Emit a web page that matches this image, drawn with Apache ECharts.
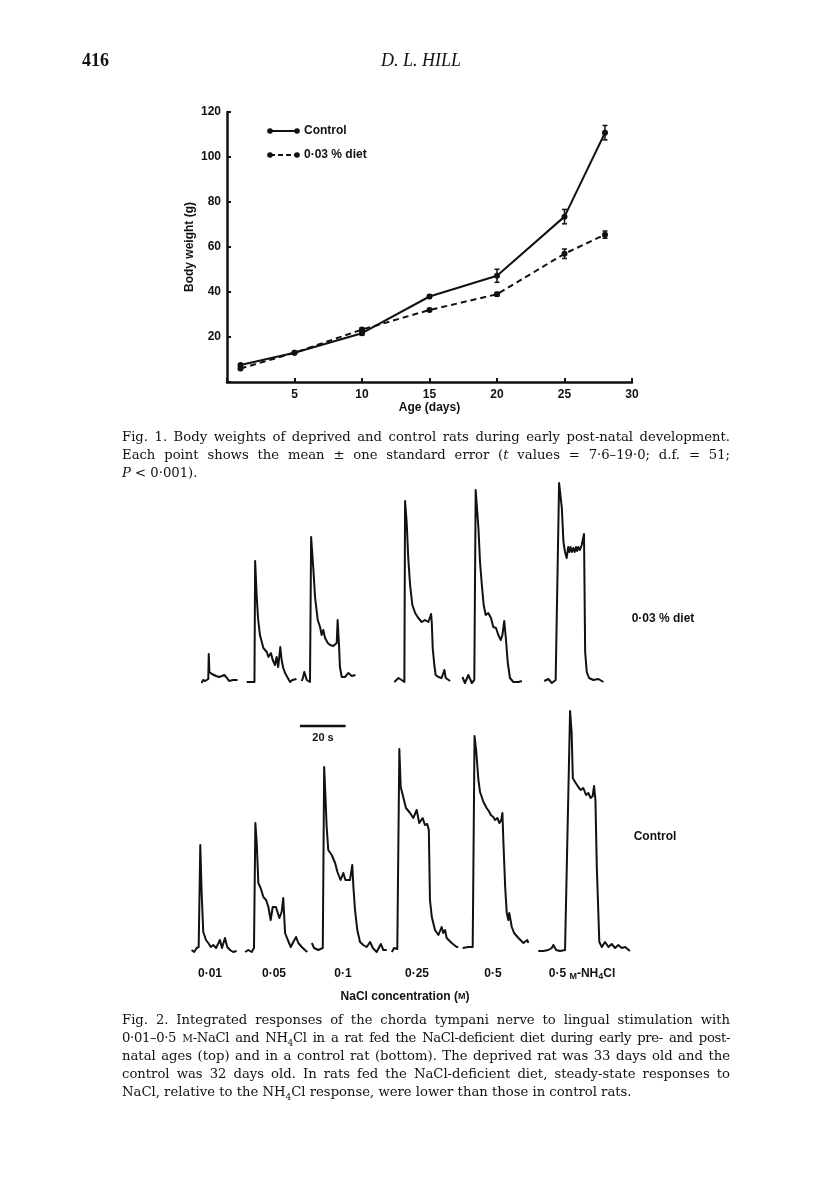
<!DOCTYPE html>
<html>
<head>
<meta charset="utf-8">
<script src="https://cdn.jsdelivr.net/npm/echarts@6/dist/echarts.min.js"></script>
<style>
  html, body { margin: 0; padding: 0; background: #fff; }
  #page { position: relative; width: 816px; height: 1198px; overflow: hidden; }
  #chart { position: absolute; left: 0; top: 0; width: 816px; height: 1198px; }
  .head { position: absolute; top: 50px; font-family: 'Liberation Serif', serif; font-size: 18px; color: #111; }
  .cap { position: absolute; left: 122px; width: 608px; font-family: 'DejaVu Serif', serif; font-size: 13.2px; line-height: 18px; color: #111; }
  .cap div { text-align: justify; text-align-last: justify; height: 18px; }
  .cap div.last { text-align-last: left; }
  .cap div.tight { letter-spacing: -0.35px; word-spacing: -1px; }
  .sc { font-size: 10.5px; }
</style>
</head>
<body>
<div id="page">
  <div id="chart"></div>
  <div class="head" style="left:82px;font-weight:bold;">416</div>
  <div class="head" style="left:381px;font-style:italic;">D. L. HILL</div>
  <div class="cap" style="top:428px;">
    <div>Fig. 1. Body weights of deprived and control rats during early post-natal development.</div>
    <div>Each point shows the mean ± one standard error (<i>t</i> values = 7·6–19·0; d.f. = 51;</div>
    <div class="last"><i>P</i> &lt; 0·001).</div>
  </div>
  <div class="cap" style="top:1011px;">
    <div>Fig. 2. Integrated responses of the chorda tympani nerve to lingual stimulation with</div>
    <div class="tight">0·01–0·5 <span class="sc">M</span>-NaCl and NH<sub style="font-size:9px">4</sub>Cl in a rat fed the NaCl-deficient diet during early pre- and post-</div>
    <div>natal ages (top) and in a control rat (bottom). The deprived rat was 33 days old and the</div>
    <div>control was 32 days old. In rats fed the NaCl-deficient diet, steady-state responses to</div>
    <div class="last">NaCl, relative to the NH<sub style="font-size:9px">4</sub>Cl response, were lower than those in control rats.</div>
  </div>
</div>
<script>
// Fig. 1 : body weight (g) vs age (days)
const ageDays = [1, 5, 10, 15, 20, 25, 28];
const controlWeight = [7.6, 13, 21.7, 38, 47.2, 73.5, 110.8];
const controlSE = [0.5, 0.5, 0.8, 0.8, 2.9, 3.2, 3.2];
const dietWeight = [6, 13, 23.3, 32, 39, 57, 65.5];
const dietSE = [0.5, 0.5, 0.8, 0.6, 0.8, 2.1, 1.6];
const ageTicks = [5, 10, 15, 20, 25, 30];
const weightTicks = [20, 40, 60, 80, 100, 120];

// Fig. 2 : integrated chorda tympani response, [time (s), response (arbitrary units)]
const dietNaCl001 = [[5.1,-2],[5.7,1],[6.6,0],[7.4,2],[8.0,2],[8.2,27],[8.5,9],[9.6,7],[11.4,5],[12.7,4],[14.0,5],[15.0,6],[16.2,3],[17.1,0],[18.8,1],[20.8,1]];
const dietNaCl005 = [[24.8,-1],[25.4,1],[26.3,-1],[27.1,-3],[28.2,-1],[28.5,120],[29.2,84],[29.8,62],[30.6,46],[32.1,33],[33.6,29],[34.3,24],[35.4,28],[36.2,21],[37.2,16],[37.9,24],[38.6,14],[39.5,34],[40.1,21],[40.8,13],[41.6,8],[42.8,3],[43.8,-1],[44.8,1],[46.6,2]];
const dietNaCl01 = [[48.9,0],[49.4,3],[50.0,9],[51.1,1],[52.5,-1],[52.9,-1],[53.0,144],[54.0,111],[54.7,84],[55.9,61],[56.9,54],[57.6,46],[58.3,51],[59.1,43],[60.3,38],[61.3,36],[62.7,35],[64.2,38],[64.6,61],[65.2,36],[65.6,14],[66.4,4],[67.8,4],[69.3,8],[70.8,5],[72.4,6]];
const dietNaCl025 = [[89.4,-1],[91.2,3],[92.6,1],[93.8,-1],[94.1,180],[94.8,159],[95.5,123],[96.3,96],[97.3,76],[98.5,68],[99.9,63],[101.4,59],[102.8,61],[104.3,59],[105.5,67],[105.8,58],[106.2,33],[106.9,16],[107.5,6],[108.7,4],[110.1,3],[111.3,11],[111.9,3],[113.8,0]];
const dietNaCl05 = [[119.2,4],[120.3,-2],[121.8,6],[123.3,-2],[124.4,1],[125.0,191],[126.2,153],[126.9,119],[127.7,96],[128.5,76],[129.4,66],[130.5,68],[131.7,63],[132.7,54],[133.9,53],[134.9,46],[136.0,41],[136.7,46],[137.5,60],[138.2,43],[139.0,19],[140.0,3],[141.5,-1],[143.7,-1],[145.2,0]];
const dietNH4Cl05 = [[155.0,0],[156.8,2],[158.3,-2],[160.0,1],[160.5,0],[161.5,198],[162.7,173],[163.4,139],[164.1,129],[164.8,123],[165.5,134],[166.0,129],[166.5,134],[167.1,129],[167.7,133],[168.3,129],[168.9,134],[169.4,130],[169.9,134],[170.6,131],[171.4,136],[172.4,147],[172.9,29],[173.6,9],[174.6,3],[176.5,1],[178.7,2],[180.9,-1]];

const ctrlNaCl001 = [[0.7,-2],[1.8,-4],[2.9,0],[3.8,1],[4.3,1],[4.5,103],[5.1,55],[5.8,16],[7.0,8],[8.0,5],[9.1,1],[10.2,3],[11.4,0],[13.1,8],[14.0,0],[15.3,10],[16.3,1],[17.5,-2],[18.9,-4],[20.4,-3]];
const ctrlNaCl005 = [[24.1,-4],[25.5,-2],[27.0,-4],[28.0,0],[28.4,0],[28.6,125],[29.2,105],[29.9,65],[30.9,60],[32.1,51],[33.3,48],[34.3,41],[35.3,28],[36.2,41],[37.6,41],[39.1,30],[40.1,36],[40.8,50],[41.6,15],[42.8,8],[44.1,1],[45.2,6],[46.4,11],[47.4,5],[48.9,1],[50.3,-2],[51.3,-4]];
const ctrlNaCl01 = [[53.3,5],[54.3,0],[56.1,-2],[58.1,0],[58.6,0],[58.7,181],[59.2,155],[59.8,121],[60.5,98],[62.0,93],[63.5,85],[64.5,76],[65.9,68],[67.1,75],[68.0,68],[68.8,66],[70.0,68],[71.0,83],[71.5,61],[72.2,38],[73.2,18],[74.4,6],[75.8,3],[77.3,1],[78.8,6],[80.0,0],[81.7,-4],[83.5,4],[84.6,-2],[86.1,-2]];
const ctrlNaCl025 = [[88.3,-4],[89.3,0],[90.7,-1],[91.4,-1],[91.6,199],[92.2,161],[93.3,151],[94.5,140],[96.3,135],[97.7,130],[99.2,138],[100.3,125],[101.8,130],[102.8,123],[103.8,124],[104.5,118],[105.0,48],[105.8,31],[107.2,18],[108.7,13],[110.1,21],[110.8,15],[111.6,18],[112.3,10],[114.5,5],[116.7,1],[117.4,1]];
const ctrlNaCl05 = [[119.3,0],[121.8,1],[123.7,1],[124.2,3],[124.5,212],[125.2,198],[126.2,168],[126.9,156],[128.4,146],[129.8,140],[131.0,136],[131.6,133],[132.7,131],[133.5,128],[134.5,130],[135.4,125],[136.2,128],[136.7,135],[137.1,108],[137.9,61],[138.6,35],[139.3,28],[139.7,35],[140.8,21],[141.8,15],[143.7,10],[145.9,5],[147.6,8],[148.0,5]];
const ctrlNH4Cl05 = [[152.4,-3],[154.6,-3],[156.8,-2],[158.3,0],[159.0,3],[160.2,-2],[161.9,-3],[164.1,-2],[164.4,-2],[166.3,237],[167.0,215],[167.5,170],[168.5,166],[169.9,161],[171.0,158],[172.1,160],[173.3,153],[174.3,155],[175.3,150],[176.2,152],[176.8,162],[177.4,148],[178.0,81],[179.1,6],[180.2,1],[181.6,6],[183.1,1],[184.5,4],[186.0,0],[187.4,3],[188.9,0],[190.4,1],[192.5,-3]];

const dietRow = [dietNaCl001, dietNaCl005, dietNaCl01, dietNaCl025, dietNaCl05, dietNH4Cl05];
const ctrlRow = [ctrlNaCl001, ctrlNaCl005, ctrlNaCl01, ctrlNaCl025, ctrlNaCl05, ctrlNH4Cl05];
const concLabels = ['0·01', '0·05', '0·1', '0·25', '0·5', '0·5 {sc|M}-NH{sub|4}Cl'];
const scaleBar = { start: 48.1, seconds: 20, level: 222 };

const sans = 'Liberation Sans';
const ink = '#111';

const chart = echarts.init(document.getElementById('chart'));

const fig1Axis = {
  axisLine: { lineStyle: { color: ink, width: 2.5 } },
  axisTick: { inside: true, length: 4, lineStyle: { color: ink, width: 2 } },
  splitLine: { show: false },
  axisLabel: { color: ink, fontFamily: sans, fontWeight: 'bold', fontSize: 12,
    formatter: v => (v === 0 ? '' : v) },
  nameLocation: 'middle',
  nameTextStyle: { color: ink, fontFamily: sans, fontWeight: 'bold', fontSize: 12 }
};

const errorSeries = (means, se) => ({
  type: 'custom',
  xAxisIndex: 0, yAxisIndex: 0,
  data: ageDays.map((d, i) => [d, means[i] - se[i], means[i] + se[i]]),
  renderItem: (params, api) => {
    const lo = api.coord([api.value(0), api.value(1)]);
    const hi = api.coord([api.value(0), api.value(2)]);
    const st = { stroke: ink, lineWidth: 1.5 };
    return { type: 'group', children: [
      { type: 'line', shape: { x1: lo[0], y1: lo[1], x2: hi[0], y2: hi[1] }, style: st },
      { type: 'line', shape: { x1: lo[0] - 2.5, y1: lo[1], x2: lo[0] + 2.5, y2: lo[1] }, style: st },
      { type: 'line', shape: { x1: hi[0] - 2.5, y1: hi[1], x2: hi[0] + 2.5, y2: hi[1] }, style: st }
    ] };
  },
  z: 3
});

const traceSeries = (trace, axis) => ({
  type: 'line',
  xAxisIndex: axis, yAxisIndex: axis,
  data: trace,
  showSymbol: false,
  lineStyle: { color: ink, width: 2, join: 'round' },
  z: 2
});

const labelText = (text, x, y, size) => ({
  type: 'text', x: x, y: y,
  style: { text: text, fill: ink, font: 'bold ' + (size || 12) + 'px ' + sans, align: 'center', verticalAlign: 'middle' }
});

const legendKey = (y, dashed) => ({
  type: 'group',
  children: [
    { type: 'line', shape: { x1: 270, y1: y, x2: 297, y2: y },
      style: { stroke: ink, lineWidth: 2, lineDash: dashed ? [5, 3] : null } },
    { type: 'circle', shape: { cx: 270, cy: y, r: 2.8 }, style: { fill: ink } },
    { type: 'circle', shape: { cx: 297, cy: y, r: 2.8 }, style: { fill: ink } }
  ]
});

const concX = [210, 274, 343, 417, 493];

chart.setOption({
  animation: false,
  backgroundColor: '#fff',
  grid: [
    { left: 227, top: 112, width: 405, height: 270 },
    { left: 190, top: 461, width: 450, height: 240 },
    { left: 190, top: 708, width: 450, height: 260 }
  ],
  xAxis: [
    Object.assign({}, fig1Axis, { gridIndex: 0, type: 'value', min: 0, max: 30, interval: 5,
      name: 'Age (days)', nameGap: 20,
      axisLabel: Object.assign({}, fig1Axis.axisLabel, { margin: 7,
        formatter: v => (ageTicks.includes(v) ? v : '') }) }),
    { gridIndex: 1, type: 'value', min: 0, max: 196.9, show: false },
    { gridIndex: 2, type: 'value', min: 0, max: 196.9, show: false }
  ],
  yAxis: [
    Object.assign({}, fig1Axis, { gridIndex: 0, type: 'value', min: 0, max: 120, interval: 20,
      name: 'Body weight (g)', nameGap: 31,
      axisLabel: Object.assign({}, fig1Axis.axisLabel, { margin: 6,
        formatter: v => (weightTicks.includes(v) ? v : '') }) }),
    { gridIndex: 1, type: 'value', min: -20, max: 220, show: false },
    { gridIndex: 2, type: 'value', min: -20, max: 240, show: false }
  ],
  series: [
    { name: 'Control', type: 'line', xAxisIndex: 0, yAxisIndex: 0,
      data: ageDays.map((d, i) => [d, controlWeight[i]]),
      symbol: 'circle', symbolSize: 6, itemStyle: { color: ink },
      lineStyle: { color: ink, width: 2 }, z: 4 },
    { name: '0·03 % diet', type: 'line', xAxisIndex: 0, yAxisIndex: 0,
      data: ageDays.map((d, i) => [d, dietWeight[i]]),
      symbol: 'circle', symbolSize: 6, itemStyle: { color: ink },
      lineStyle: { color: ink, width: 2, type: [6, 4] }, z: 4 },
    errorSeries(controlWeight, controlSE),
    errorSeries(dietWeight, dietSE),
    ...dietRow.map(t => traceSeries(t, 1)),
    ...ctrlRow.map(t => traceSeries(t, 2)),
    { type: 'line', xAxisIndex: 2, yAxisIndex: 2, showSymbol: false,
      data: [[scaleBar.start, scaleBar.level], [scaleBar.start + scaleBar.seconds, scaleBar.level]],
      lineStyle: { color: ink, width: 2.5 } }
  ],
  graphic: [
    legendKey(131, false),
    legendKey(155, true),
    { type: 'text', x: 304, y: 131, style: { text: 'Control', fill: ink, font: 'bold 12px ' + sans, verticalAlign: 'middle' } },
    { type: 'text', x: 304, y: 155, style: { text: '0·03 % diet', fill: ink, font: 'bold 12px ' + sans, verticalAlign: 'middle' } },
    labelText('0·03 % diet', 663, 619),
    labelText('Control', 655, 837),
    labelText('20 s', 323, 738, 11),
    ...concX.map((x, i) => labelText(concLabels[i], x, 974)),
    { type: 'text', x: 582, y: 974, style: {
      text: concLabels[5], fill: ink, font: 'bold 12px ' + sans, align: 'center', verticalAlign: 'middle',
      rich: { sc: { font: 'bold 9px ' + sans, fill: ink, verticalAlign: 'bottom' },
              sub: { font: 'bold 9px ' + sans, fill: ink, padding: [5, 0, 0, 0] } } } },
    { type: 'text', x: 405, y: 997, style: {
      text: 'NaCl concentration ({sc|M})', fill: ink, font: 'bold 12px ' + sans, align: 'center', verticalAlign: 'middle',
      rich: { sc: { font: 'bold 9px ' + sans, fill: ink } } } }
  ]
});
</script>
</body>
</html>
